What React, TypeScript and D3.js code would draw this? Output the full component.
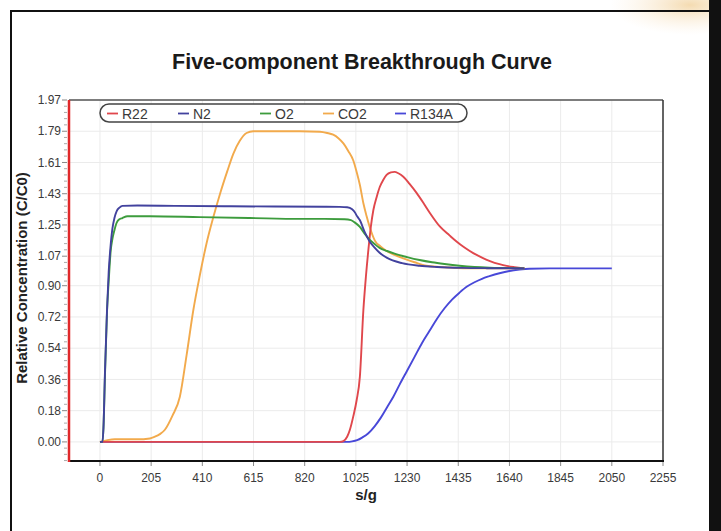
import React from "react";
import * as d3 from "d3";

const title = "Five-component Breakthrough Curve";
const xLabel = "s/g";
const yLabel = "Relative Concentration (C/C0)";
const xTicks = [0, 205, 410, 615, 820, 1025, 1230, 1435, 1640, 1845, 2050, 2255];
const yTicks = [0, 0.18, 0.36, 0.54, 0.72, 0.9, 1.07, 1.25, 1.43, 1.61, 1.79, 1.97];

const n2X = [0, 10, 14, 20, 28, 35, 42, 50, 58, 67, 78, 90, 150, 300, 500, 700, 900, 960, 990, 1010, 1020, 1030, 1040, 1060, 1080, 1100, 1120, 1150, 1210, 1280, 1350, 1450, 1550, 1700];
const n2Y = [0, 0, 0.08, 0.4, 0.75, 0.98, 1.12, 1.23, 1.29, 1.33, 1.35, 1.36, 1.362, 1.36, 1.358, 1.356, 1.355, 1.354, 1.352, 1.34, 1.325, 1.3, 1.28, 1.21, 1.155, 1.12, 1.09, 1.06, 1.03, 1.015, 1.008, 1.003, 1.001, 1.0];

const o2X = [0, 10, 14, 20, 28, 36, 43, 50, 58, 66, 75, 90, 110, 200, 400, 600, 800, 900, 980, 1005, 1020, 1040, 1060, 1080, 1100, 1120, 1150, 1180, 1230, 1280, 1330, 1380, 1440, 1500, 1560, 1620, 1700];
const o2Y = [0, 0, 0.08, 0.38, 0.74, 0.95, 1.1, 1.17, 1.22, 1.26, 1.28, 1.29, 1.3, 1.3, 1.295, 1.29, 1.285, 1.285, 1.283, 1.278, 1.265, 1.24, 1.2, 1.165, 1.14, 1.118, 1.1, 1.085, 1.065, 1.048, 1.035, 1.025, 1.015, 1.008, 1.004, 1.002, 1.0];

const co2X = [0, 30, 60, 100, 150, 200, 220, 240, 260, 290, 320, 347, 374, 400, 427, 455, 481, 510, 534, 560, 587, 614, 700, 800, 881, 910, 934, 955, 975, 995, 1015, 1028, 1041, 1055, 1068, 1081, 1101, 1125, 1148, 1180, 1215, 1260, 1308, 1400, 1500, 1600, 1700];
const co2Y = [0, 0.01, 0.015, 0.015, 0.015, 0.02, 0.03, 0.045, 0.07, 0.15, 0.26, 0.5, 0.76, 0.96, 1.145, 1.3, 1.43, 1.56, 1.66, 1.735, 1.78, 1.79, 1.79, 1.79, 1.787, 1.78, 1.77, 1.75, 1.72, 1.675, 1.62, 1.555, 1.48, 1.375, 1.3, 1.235, 1.16, 1.125, 1.1, 1.078, 1.058, 1.035, 1.015, 1.005, 1.0, 1.0, 1.0];

const r22X = [0, 500, 960, 975, 990, 1001, 1015, 1028, 1041, 1055, 1065, 1075, 1085, 1095, 1108, 1121, 1135, 1148, 1165, 1180, 1195, 1215, 1240, 1268, 1295, 1322, 1362, 1400, 1428, 1460, 1495, 1530, 1562, 1600, 1629, 1660, 1700];
const r22Y = [0, 0, 0, 0.005, 0.03, 0.07, 0.15, 0.24, 0.376, 0.76, 0.95, 1.106, 1.24, 1.336, 1.41, 1.47, 1.51, 1.538, 1.553, 1.556, 1.548, 1.528, 1.487, 1.435, 1.378, 1.318, 1.24, 1.19, 1.155, 1.12, 1.088, 1.062, 1.042, 1.024, 1.014, 1.007, 1.0];

const r134aX = [0, 500, 990, 1010, 1030, 1050, 1075, 1100, 1125, 1150, 1175, 1200, 1230, 1260, 1290, 1320, 1350, 1380, 1410, 1440, 1470, 1500, 1530, 1560, 1600, 1640, 1680, 1720, 1800, 1900, 2050];
const r134aY = [0, 0, 0, 0.003, 0.01, 0.025, 0.05, 0.09, 0.14, 0.2, 0.26, 0.33, 0.41, 0.49, 0.57, 0.64, 0.71, 0.77, 0.82, 0.86, 0.895, 0.92, 0.94, 0.955, 0.972, 0.985, 0.993, 0.998, 1.0, 1.0, 1.0];

const seriesNames = ["R22", "N2", "O2", "CO2", "R134A"];
const seriesColors = ["#e0474c", "#42429e", "#3d9c3d", "#f2aa4c", "#4848d8"];
const seriesXs = [r22X, n2X, o2X, co2X, r134aX];
const seriesYs = [r22Y, n2Y, o2Y, co2Y, r134aY];
const drawOrder = [4, 3, 0, 2, 1];
const legendLineX = [107, 178, 260, 323, 395];

export default function App() {
  const L = 69, R = 663, T = 100, B = 461;
  const x = d3.scaleLinear().domain([-124, 2255]).range([L, R]);
  const y = d3.scaleLinear().domain([-0.11, 1.97]).range([B, T]);
  const line = d3
    .line<[number, number]>()
    .x((d) => x(d[0]))
    .y((d) => y(d[1]))
    .curve(d3.curveMonotoneX);

  const minor: number[] = [];
  for (let i = 0; i < yTicks.length; i++) {
    const step = 1.97 / 11;
    for (let k = 1; k < 5; k++) {
      const v = yTicks[i] - (step * k) / 5;
      if (v >= -0.11) minor.push(v);
    }
  }

  const font = "'Liberation Sans', Arial, sans-serif";

  return (
    <svg
      width={721}
      height={531}
      style={{ position: "absolute", left: 0, top: 0, background: "#fff" }}
      fontFamily={font}
    >
      <defs>
        <radialGradient id="glow" cx="0.5" cy="0.5" r="0.5">
          <stop offset="0%" stopColor="#f3d7a8" stopOpacity={0.9} />
          <stop offset="100%" stopColor="#fbeedb" stopOpacity={0} />
        </radialGradient>
      </defs>
      <rect x={0} y={0} width={721} height={531} fill="#fff" />
      <ellipse cx={690} cy={5} rx={80} ry={30} fill="url(#glow)" />
      {/* outer frame */}
      <line x1={10} y1={11} x2={710} y2={11} stroke="#111" strokeWidth={2} />
      <line x1={11} y1={10} x2={11} y2={531} stroke="#111" strokeWidth={2} />
      <rect x={709} y={0} width={12} height={531} fill="#111" />

      <text x={362} y={69} textAnchor="middle" fontSize={21.5} fontWeight="bold" fill="#1a1a1a">
        {title}
      </text>

      {/* grid */}
      {xTicks.map((t) => (
        <line key={"gx" + t} x1={x(t)} x2={x(t)} y1={T} y2={B} stroke="#ebebeb" strokeWidth={1} />
      ))}
      {yTicks.map((t) => (
        <line key={"gy" + t} x1={L} x2={R} y1={y(t)} y2={y(t)} stroke="#ebebeb" strokeWidth={1} />
      ))}

      {/* series */}
      {drawOrder.map((i) => (
        <path
          key={seriesNames[i]}
          d={line(seriesXs[i].map((v, j) => [v, seriesYs[i][j]] as [number, number])) || ""}
          fill="none"
          stroke={seriesColors[i]}
          strokeWidth={1.9}
        />
      ))}

      {/* frame of plot */}
      <line x1={L} x2={R} y1={T} y2={T} stroke="#555" strokeWidth={1.5} />
      <line x1={R} x2={R} y1={T} y2={B} stroke="#333" strokeWidth={1.5} />
      <line x1={L - 1} x2={R + 1} y1={B} y2={B} stroke="#111" strokeWidth={2.2} />
      <line x1={L} x2={L} y1={T} y2={B + 1} stroke="#e0282a" strokeWidth={2.5} />

      {/* y ticks */}
      {yTicks.map((t) => (
        <g key={"yt" + t}>
          <line x1={L - 7} x2={L - 2} y1={y(t)} y2={y(t)} stroke="#888" strokeWidth={1} />
          <text x={L - 8} y={y(t) + 4.2} textAnchor="end" fontSize={12} fill="#3a3a3a">
            {t.toFixed(2)}
          </text>
        </g>
      ))}
      {minor.map((v, i) => (
        <line key={"ym" + i} x1={L - 5} x2={L - 2} y1={y(v)} y2={y(v)} stroke="#aaa" strokeWidth={1} />
      ))}

      {/* x ticks */}
      {xTicks.map((t) => (
        <g key={"xt" + t}>
          <line x1={x(t)} x2={x(t)} y1={B + 1} y2={B + 5} stroke="#888" strokeWidth={1} />
          <text x={x(t)} y={481.5} textAnchor="middle" fontSize={12} fill="#3a3a3a">
            {t}
          </text>
        </g>
      ))}

      <text x={366} y={500} textAnchor="middle" fontSize={15} fontWeight="bold" fill="#222">
        {xLabel}
      </text>
      <text
        transform={`translate(27, ${278}) rotate(-90)`}
        textAnchor="middle"
        fontSize={15}
        fontWeight="bold"
        fill="#222"
      >
        {yLabel}
      </text>

      {/* legend */}
      <rect x={100} y={104} width={367} height={18} rx={9} ry={9} fill="#fff" stroke="#444" strokeWidth={1.5} />
      {seriesNames.map((n, i) => (
        <g key={"lg" + n}>
          <line x1={legendLineX[i]} x2={legendLineX[i] + 11} y1={113.5} y2={113.5} stroke={seriesColors[i]} strokeWidth={1.8} />
          <text x={legendLineX[i] + 15} y={118.5} fontSize={14} fill="#3a3a3a">
            {n}
          </text>
        </g>
      ))}
    </svg>
  );
}
